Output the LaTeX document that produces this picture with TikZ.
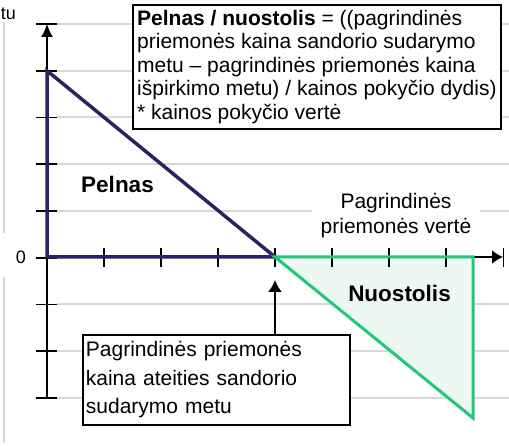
\documentclass[tikz,border=0pt]{standalone}
\usepackage{fontspec}
\setmainfont{Liberation Sans}
\usetikzlibrary{arrows.meta}
\definecolor{navy}{RGB}{40,36,100}
\definecolor{lossgreen}{RGB}{32,200,120}
\definecolor{mint}{RGB}{237,248,243}
\definecolor{gridgrey}{RGB}{216,216,216}
\begin{document}
\begin{tikzpicture}[x=1pt,y=-1pt,
  gridline/.style={gridgrey, line width=2pt},
  tickline/.style={black, line width=1.8pt},
  axisline/.style={black, line width=1.8pt},
  textbox/.style={draw=black, line width=1.8pt, fill=white, anchor=north west},
  biglabel/.style={font=\fontsize{22.5}{26}\selectfont\bfseries, inner sep=0pt, anchor=base},
  smalllabel/.style={font=\fontsize{18}{21}\selectfont, inner sep=0pt}]
\useasboundingbox (0,0) rectangle (509,446);
% grid
\foreach \y in {24,70.75,117.5,164.25,211,304.5,351.25,398}
  \draw[gridline] (57,\y) -- (509,\y);
\draw[gridline] (4,22) -- (4,233);
\draw[gridline] (4,277) -- (4,443);
% loss area fill
\fill[mint] (275,257) -- (473,257) -- (473,418) -- cycle;
% coordinates
\coordinate (O) at (47,257);
\coordinate (ytop) at (47,24);
\coordinate (ybot) at (47,398);
\coordinate (xend) at (503,257);
\coordinate (ptop) at (47,70.75);
\coordinate (pright) at (275,257);
\coordinate (lright) at (473,257);
\coordinate (lbot) at (473,418);
\coordinate (ptip) at (275,280);
% boxes
\node[textbox, minimum width=368pt, minimum height=124pt, inner sep=2pt, align=left,
  font=\fontsize{21}{23.4}\selectfont] (formula) at (132,4)
  {{\bfseries Pelnas / nuostolis} = ((pagrindinės\\
   priemonės kaina sandorio sudarymo\\
   metu – pagrindinės priemonės kaina\\
   išpirkimo metu) / kainos pokyčio dydis)\\
   * kainos pokyčio vertė};
\node[textbox, minimum height=90pt, text width=261pt, inner xsep=3pt, inner ysep=2pt, align=left,
  font=\fontsize{21}{28.5}\selectfont] (price) at (82,334)
  {Pagrindinės priemonės\\kaina ateities sandorio\\sudarymo metu};
\node[fill=white, inner xsep=9pt, inner ysep=1pt, align=center,
  font=\fontsize{21}{25}\selectfont] (xlabel) at (396,216)
  {Pagrindinės\\priemonės vertė};
% axes
\draw[axisline, -{Latex[length=13pt,width=12pt]}] (ybot) -- (ytop);
\draw[axisline, -{Latex[length=11pt,width=14pt]}] (O) -- (xend);
\foreach \k in {0,...,8}
  \draw[tickline] (36,{24+46.75*\k}) -- (57,{24+46.75*\k});
\foreach \k in {1,...,8}
  \draw[tickline] ({47+57.05*\k},248) -- ({47+57.05*\k},267);
% profit triangle
\draw[navy, line width=3.5pt] (ptop) -- (O) -- (pright) -- cycle;
% loss triangle
\draw[lossgreen, line width=3pt] (pright) -- (lright) -- (lbot) -- cycle;
% pointer arrow
\draw[axisline, -{Latex[length=12pt,width=14pt]}] (price.north -| ptip) -- (ptip);
% labels
\node[biglabel] (pelnas) at (117.5,193) {Pelnas};
\node[biglabel] (nuostolis) at (399.5,302) {Nuostolis};
\node[smalllabel, anchor=base] (zero) at (21,264) {0};
\node[smalllabel, anchor=base east] (tu) at (16,19.5) {tu};
\end{tikzpicture}
\end{document}
